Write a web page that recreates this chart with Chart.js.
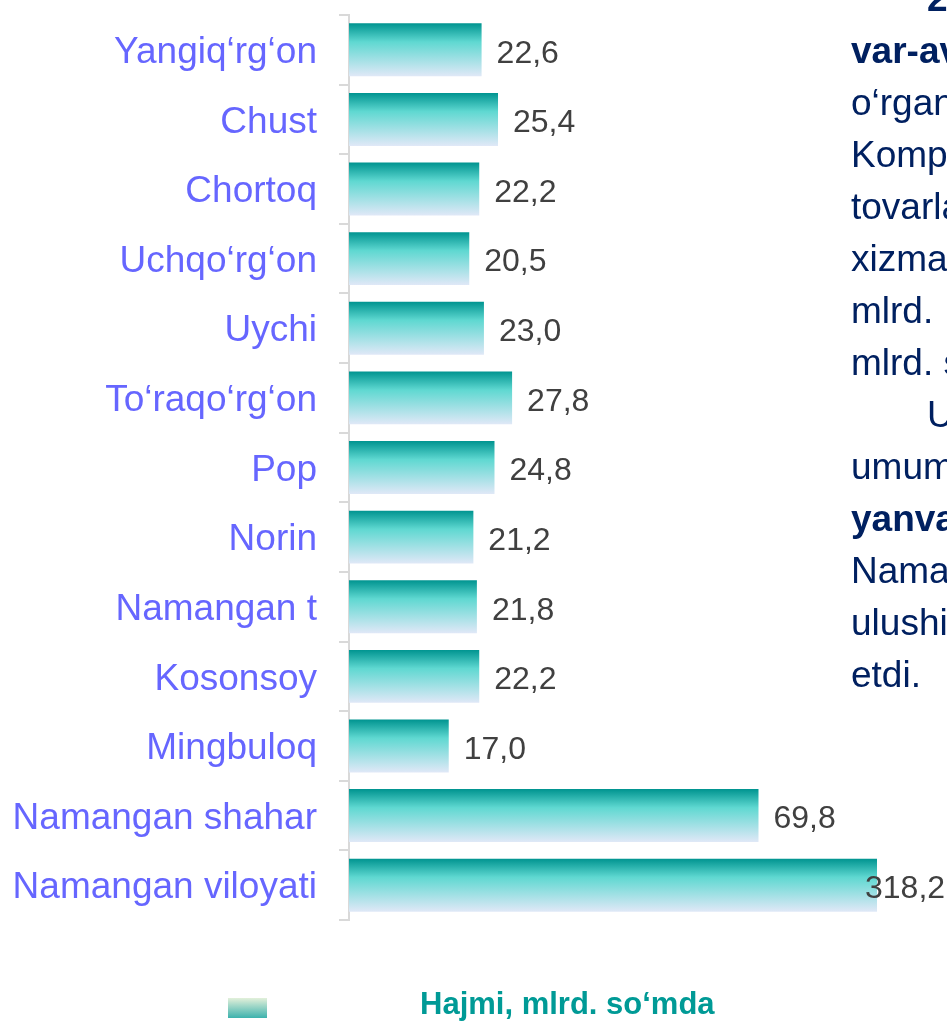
<!DOCTYPE html>
<html>
<head>
<meta charset="utf-8">
<script src="https://cdn.jsdelivr.net/npm/chart.js@4.4.0/dist/chart.umd.min.js"></script>
<style>
    html, body { margin: 0; padding: 0; background: #fff; overflow: hidden; }
    #wrap { position: relative; width: 947px; height: 1021px; overflow: hidden; }
    #barChart { display: block; }
    #side {
        position: absolute; left: 851px; top: -27px; width: 400px;
        font-family: "Liberation Sans", Arial, sans-serif; font-size: 37px;
        line-height: 52px; color: #002060;
    }
    #side div { white-space: pre; height: 52px; }
    #side .ind { padding-left: 76px; }
</style>
</head>
<body>
<div id="wrap">
    <canvas id="barChart" width="947" height="1021"></canvas>
    <div id="side">
        <div class="ind"><b>2023-yil</b></div>
        <div><b>var-avgust</b></div>
        <div>o‘rganilganda</div>
        <div>Kompaniya</div>
        <div>tovarlar</div>
        <div>xizmatlar</div>
        <div>mlrd.  so‘m</div>
        <div>mlrd. so‘m</div>
        <div class="ind">Umumiy</div>
        <div>umumiy</div>
        <div><b>yanvar</b></div>
        <div>Namangan</div>
        <div>ulushi</div>
        <div>etdi.</div>
    </div>
</div>
<script>
var categories = [
    "Yangiq‘rg‘on",
    "Chust",
    "Chortoq",
    "Uchqo‘rg‘on",
    "Uychi",
    "To‘raqo‘rg‘on",
    "Pop",
    "Norin",
    "Namangan t",
    "Kosonsoy",
    "Mingbuloq",
    "Namangan shahar",
    "Namangan viloyati"
];
var values = [22.6, 25.4, 22.2, 20.5, 23.0, 27.8, 24.8, 21.2, 21.8, 22.2, 17.0, 69.8, 318.2];
var seriesName = "Hajmi, mlrd. so‘mda";

var FONT = '"Liberation Sans", Arial, sans-serif';
var BAR_SHARE = 0.76;

// vertical gradient per bar, worked out from the category scale
function barGradient(c) {
    var chart = c.chart;
    var yScale = chart.scales.y;
    if (!chart.chartArea || c.dataIndex === undefined || !yScale) {
        return "#5cd6d0";
    }
    var mid = yScale.getPixelForValue(c.dataIndex);
    var half = Math.abs(yScale.getPixelForValue(1) - yScale.getPixelForValue(0)) * BAR_SHARE / 2;
    var g = chart.ctx.createLinearGradient(0, mid - half, 0, mid + half);
    g.addColorStop(0, "#009490");
    g.addColorStop(0.35, "#5fd8d1");
    g.addColorStop(1, "#e0e8f7");
    return g;
}

var valueLabels = {
    id: "valueLabels",
    afterDatasetsDraw: function (chart) {
        var ctx = chart.ctx;
        var right = chart.chartArea.right;
        ctx.save();
        ctx.font = "32px " + FONT;
        ctx.fillStyle = "#404040";
        ctx.textBaseline = "middle";
        ctx.textAlign = "left";
        chart.getDatasetMeta(0).data.forEach(function (bar, i) {
            var txt = values[i].toFixed(1).replace(".", ",");
            var x = bar.x > right ? right - 12 : bar.x + 15;
            ctx.fillText(txt, x, bar.y + 4);
        });
        ctx.restore();
    }
};

var bottomLegend = {
    id: "bottomLegend",
    afterDraw: function (chart) {
        var ctx = chart.ctx;
        ctx.save();
        var g = ctx.createLinearGradient(0, 998, 0, 1018);
        g.addColorStop(0, "#e3f0da");
        g.addColorStop(1, "#3cb2ad");
        ctx.fillStyle = g;
        ctx.fillRect(228, 998, 39, 20);
        ctx.font = "bold 31px " + FONT;
        ctx.fillStyle = "#009a96";
        ctx.textBaseline = "middle";
        ctx.fillText(chart.data.datasets[0].label, 420, 1005);
        ctx.restore();
    }
};

var barChart = new Chart(document.getElementById("barChart"), {
    type: "bar",
    data: {
        labels: categories,
        datasets: [
            {
                label: seriesName,
                data: values,
                backgroundColor: barGradient,
                borderWidth: 0,
                barPercentage: 1,
                categoryPercentage: BAR_SHARE
            }
        ]
    },
    options: {
        indexAxis: "y",
        responsive: false,
        animation: false,
        layout: { padding: { top: 15, right: 70, bottom: 101, left: 0 } },
        plugins: {
            legend: { display: false },
            tooltip: { enabled: false }
        },
        scales: {
            x: { display: false, min: 0, max: 90 },
            y: {
                border: { color: "#d9d9d9", width: 2 },
                grid: {
                    drawOnChartArea: false,
                    drawTicks: true,
                    tickLength: 10,
                    color: "#d9d9d9",
                    lineWidth: 2,
                    offset: true
                },
                ticks: {
                    color: "#6666ff",
                    padding: 22,
                    labelOffset: 3,
                    autoSkip: false,
                    font: { size: 37, family: FONT }
                },
                afterFit: function (scale) {
                    scale.width = 349;
                    scale.paddingTop = 0;
                    scale.paddingBottom = 0;
                }
            }
        }
    },
    plugins: [valueLabels, bottomLegend]
});
</script>
</body>
</html>
